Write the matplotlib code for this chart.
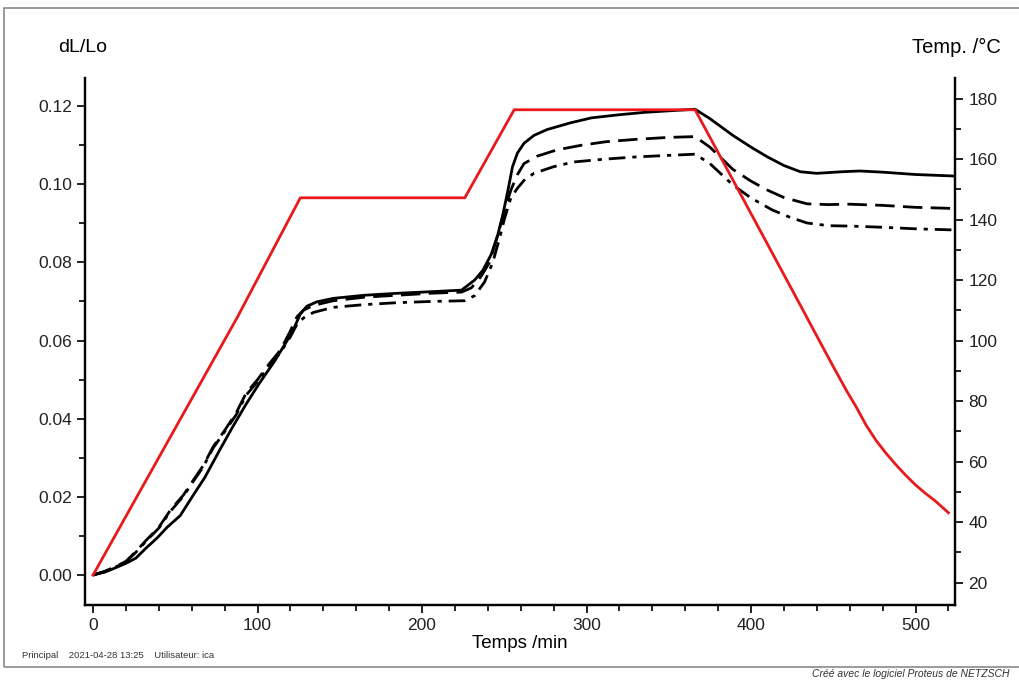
import matplotlib
matplotlib.use("Agg")
import matplotlib.pyplot as plt
from matplotlib.patches import Rectangle
from matplotlib.ticker import MultipleLocator

plt.rcParams["font.family"] = ["Liberation Sans", "DejaVu Sans"]

# dL/Lo, solid curve
t_solid = [0, 7, 14, 20, 26, 32, 39, 45, 53, 61, 68, 77, 85, 93, 101, 110, 118, 122, 126, 130,
           136, 146, 165, 185, 205, 224, 232, 237, 242, 246, 249, 252, 255, 258, 262, 268, 276,
           290, 303, 320, 335, 350, 366, 375, 389, 400, 410, 420, 430, 440, 455, 466, 480, 500, 524]
dl_solid = [0, 0.0007, 0.0019, 0.003, 0.0043, 0.0068, 0.0095, 0.0122, 0.0152, 0.0205, 0.025,
            0.032, 0.038, 0.0437, 0.049, 0.0545, 0.06, 0.063, 0.0668, 0.0688, 0.0699, 0.0708,
            0.0716, 0.0721, 0.0725, 0.0729, 0.0755, 0.078, 0.082, 0.087, 0.092, 0.098, 0.1045,
            0.108, 0.1105, 0.1125, 0.114, 0.1157, 0.117, 0.1178, 0.1184, 0.1188, 0.1192, 0.1168,
            0.1125, 0.1095, 0.107, 0.1048, 0.1032, 0.1028, 0.1032, 0.1034, 0.1031, 0.1025, 0.1021]

# dL/Lo, dashed curve
t_dash = [0, 7, 14, 20, 26, 33, 40, 47, 55, 61, 67, 73, 80, 87, 93, 100, 107, 114, 120, 124, 128,
          134, 146, 165, 185, 205, 224, 230, 236, 241, 245, 248, 251, 254, 258, 262, 270, 282, 297,
          312, 330, 350, 366, 375, 389, 400, 410, 420, 434, 447, 460, 480, 500, 524]
dl_dash = [0, 0.0009, 0.0022, 0.0035, 0.006, 0.0092, 0.0122, 0.0166, 0.0205, 0.0243, 0.028,
           0.0328, 0.037, 0.0415, 0.0465, 0.05, 0.054, 0.0576, 0.0625, 0.0661, 0.0678, 0.069,
           0.0702, 0.0711, 0.0716, 0.0721, 0.0724, 0.0735, 0.0765, 0.08, 0.0855, 0.09, 0.0945,
           0.0985, 0.1025, 0.1053, 0.1072, 0.1088, 0.11, 0.1109, 0.1115, 0.112, 0.1122, 0.1095,
           0.1038, 0.1008, 0.0985, 0.0966, 0.095, 0.0948, 0.0949, 0.0946, 0.0941, 0.0938]

# dL/Lo, dash-dot curve
t_dashdot = [0, 7, 14, 20, 26, 33, 40, 47, 55, 61, 67, 73, 80, 87, 93, 100, 107, 114, 120, 124,
             128, 134, 146, 165, 185, 205, 226, 232, 238, 243, 247, 250, 254, 258, 262, 268, 280,
             292, 310, 330, 350, 366, 375, 389, 400, 413, 424, 434, 447, 460, 480, 500, 524]
dl_dashdot = [0, 0.0009, 0.0021, 0.0034, 0.0058, 0.009, 0.012, 0.0163, 0.0202, 0.024, 0.0277,
              0.0325, 0.0367, 0.041, 0.046, 0.0495, 0.0535, 0.057, 0.061, 0.0642, 0.0658, 0.0672,
              0.0685, 0.0692, 0.0697, 0.07, 0.0702, 0.0715, 0.075, 0.08, 0.086, 0.091, 0.0965,
              0.099, 0.101, 0.1028, 0.1045, 0.1057, 0.1064, 0.107, 0.1074, 0.1077, 0.1053, 0.0998,
              0.0965, 0.0934, 0.0915, 0.0901, 0.0894, 0.0893, 0.089, 0.0886, 0.0883]

# temperature program (red)
t_temp = [0, 88, 126, 226, 256, 366, 428, 440, 450, 458, 464, 470, 476, 482, 488, 494, 500,
          506, 512, 520]
temp = [22.5, 108, 147.2, 147.2, 176.3, 176.3, 113.7, 101.5, 91.4, 83.5, 78, 72, 67, 62.8, 59,
        55.5, 52.3, 49.5, 47, 43.1]

fig = plt.figure(figsize=(10.19, 6.8), dpi=100)
ax = fig.add_axes([85 / 1019, 1 - 605 / 680, 870 / 1019, 527 / 680])
ax2 = ax.twinx()

ax.plot(t_solid, dl_solid, color="black", lw=2, solid_capstyle="round")
ax.plot(t_dash, dl_dash, color="black", lw=2, dashes=(7, 3))
ax.plot(t_dashdot, dl_dashdot, color="black", lw=2, dashes=(6, 2.5, 1.5, 2.5))
ax2.plot(t_temp, temp, color="#e8191a", lw=2)

ax.set_xlim(-4.9, 524)
ax.set_ylim(-0.00768, 0.1272)
ax2.set_ylim(12.6, 186.8)

ax.xaxis.set_major_locator(MultipleLocator(100))
ax.xaxis.set_minor_locator(MultipleLocator(20))
ax.yaxis.set_major_locator(MultipleLocator(0.02))
ax.yaxis.set_minor_locator(MultipleLocator(0.01))
ax.yaxis.set_major_formatter(plt.FuncFormatter(lambda v, p: f"{v:.2f}"))
ax2.yaxis.set_major_locator(MultipleLocator(20))
ax2.yaxis.set_minor_locator(MultipleLocator(10))

for a in (ax, ax2):
    a.spines["top"].set_visible(False)
    for s in a.spines.values():
        s.set_linewidth(1.6)
    a.tick_params(which="major", length=6, width=1.4, labelsize=12.5, colors="#222222")
    a.tick_params(which="minor", length=4, width=1.2)

ax.set_xlabel("Temps /min", fontsize=13.5, labelpad=1)

fig.text(83 / 1019, 1 - 47 / 680, "dL/Lo", ha="center", va="center", fontsize=14)
fig.text(956 / 1019, 1 - 47 / 680, "Temp. /°C", ha="center", va="center", fontsize=14.5)

fig.text(22 / 1019, 1 - 655 / 680, "Principal    2021-04-28 13:25    Utilisateur: ica",
         ha="left", va="center", fontsize=6.8, color="#333333")
fig.text(812 / 1019, 1 - 674 / 680, "Créé avec le logiciel Proteus de NETZSCH",
         ha="left", va="center", fontsize=7.5, style="italic", color="#333333")

fig.patches.append(Rectangle((4 / 1019, 1 - 667 / 680), 1.02, 659 / 680,
                             transform=fig.transFigure, fill=False,
                             edgecolor="#8a8a8a", lw=1.2))

fig.savefig("out.png", dpi=100)
